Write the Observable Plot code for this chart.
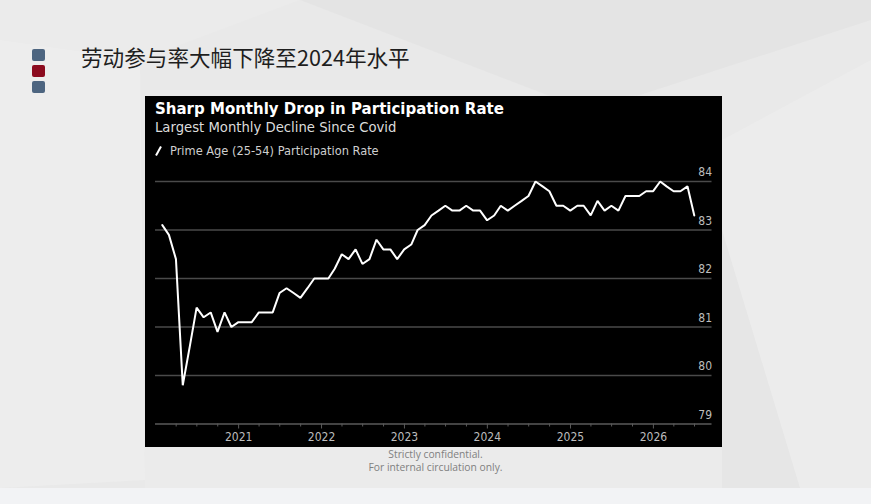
<!DOCTYPE html>
<html>
<head>
<meta charset="utf-8">
<script src="https://cdn.jsdelivr.net/npm/d3@7"></script>
<script src="https://cdn.jsdelivr.net/npm/@observablehq/plot@0.6"></script>
<style>
  html, body { margin: 0; padding: 0; }
  body { width: 871px; height: 504px; position: relative; overflow: hidden; background: #e9e9e9; font-family: "Noto Sans", sans-serif; }
  .facet { position: absolute; left: 0; top: 0; width: 871px; height: 504px; }
  .f1 { background: #e4e4e4; clip-path: polygon(300px 0, 871px 0, 871px 20px, 640px 95px, 560px 100px); }
  .f2 { background: #ededed; clip-path: polygon(0 40px, 140px 60px, 145px 480px, 0 488px); }
  .f3 { background: #ececec; clip-path: polygon(722px 140px, 871px 60px, 871px 488px, 722px 488px); }
  .f4 { background: #e6e6e6; clip-path: polygon(722px 230px, 800px 488px, 722px 488px); }
  .f5 { background: #ebebeb; clip-path: polygon(0 0, 300px 0, 140px 60px, 0 40px); }
  .f6 { background: #ebebeb; clip-path: polygon(145px 447px, 722px 447px, 722px 488px, 145px 488px); }
  .bottom { position: absolute; left: 0; top: 488px; width: 871px; height: 16px; background: #f2f3f5; }
  .sq { position: absolute; left: 32px; width: 13px; height: 12px; border-radius: 2px; }
  .title { position: absolute; left: 81px; top: 42px; font-family: "Noto Sans CJK SC", sans-serif; font-size: 21.6px; line-height: 30px; color: #1e1e1e; white-space: nowrap; }
  .panel { position: absolute; left: 145px; top: 96px; width: 577px; height: 351px; background: #000; }
  .ct { position: absolute; left: 10px; white-space: nowrap; font-family: "DejaVu Sans Condensed", "DejaVu Sans", sans-serif; }
  .ct1 { top: 3px; font-family: "DejaVu Sans", sans-serif; font-size: 15px; line-height: 20px; font-weight: bold; color: #fff; }
  .ct2 { top: 21px; font-size: 14.7px; line-height: 20px; color: #dcdcdc; }
  .ct3 { top: 46px; left: 10px; font-size: 12.7px; line-height: 18px; color: #cfcfcf; }
  .ct3 svg { vertical-align: -1px; margin-right: 8px; }
  #chart { position: absolute; left: 0; top: 64px; }
  .cap { position: absolute; left: 0; width: 871px; text-align: center; font-family: "Open Sans", sans-serif; font-size: 10.3px; line-height: 13px; color: #808080; }
</style>
</head>
<body>
<div class="facet f5"></div>
<div class="facet f1"></div>
<div class="facet f2"></div>
<div class="facet f3"></div>
<div class="facet f4"></div>
<div class="facet f6"></div>
<div class="bottom"></div>

<div class="sq" style="top:49px;background:#4d6580"></div>
<div class="sq" style="top:65px;background:#8c0b1f"></div>
<div class="sq" style="top:81px;background:#4d6580"></div>
<div class="title" id="pageTitle"></div>

<div class="panel">
  <div class="ct ct1" id="chartTitle"></div>
  <div class="ct ct2" id="chartSub"></div>
  <div class="ct ct3" id="legend"><svg width="7" height="10"><line x1="1" y1="9.5" x2="6" y2="0.5" stroke="#fff" stroke-width="2"/></svg><span id="legendText"></span></div>
  <div id="chart"></div>
</div>

<div class="cap" style="top:448px">Strictly confidential.</div>
<div class="cap" style="top:461px">For internal circulation only.</div>

<script>
// ---- Data ----
const pageTitle = "劳动参与率大幅下降至2024年水平";
const chartTitle = "Sharp Monthly Drop in Participation Rate";
const chartSubtitle = "Largest Monthly Decline Since Covid";
const seriesName = "Prime Age (25-54) Participation Rate";

const firstMonth = "2020-01";   // first observation (monthly, plotted at month end)
const rates = [
  // 2020
  83.1, 82.9, 82.4, 79.8, 80.6, 81.4, 81.2, 81.3, 80.9, 81.3, 81.0, 81.1,
  // 2021
  81.1, 81.1, 81.3, 81.3, 81.3, 81.7, 81.8, 81.7, 81.6, 81.8, 82.0, 82.0,
  // 2022
  82.0, 82.2, 82.5, 82.4, 82.6, 82.3, 82.4, 82.8, 82.6, 82.6, 82.4, 82.6,
  // 2023
  82.7, 83.0, 83.1, 83.3, 83.4, 83.5, 83.4, 83.4, 83.5, 83.4, 83.4, 83.2,
  // 2024
  83.3, 83.5, 83.4, 83.5, 83.6, 83.7, 84.0, 83.9, 83.8, 83.5, 83.5, 83.4,
  // 2025
  83.5, 83.5, 83.3, 83.6, 83.4, 83.5, 83.4, 83.7, 83.7, 83.7, 83.8, 83.8,
  // 2026
  84.0, 83.9, 83.8, 83.8, 83.9, 83.3
];
const yTicks = [79, 80, 81, 82, 83, 84];
const yearTicks = ["2021", "2022", "2023", "2024", "2025", "2026"];
const xDomain = ["2020-01-01", "2026-09-16"];

// ---- Build ----
document.getElementById("pageTitle").textContent = pageTitle;
document.getElementById("chartTitle").textContent = chartTitle;
document.getElementById("chartSub").textContent = chartSubtitle;
document.getElementById("legendText").textContent = seriesName;

const start = new Date(firstMonth + "-01T00:00:00Z");
const data = rates.map((v, i) => ({
  date: d3.utcDay.offset(d3.utcMonth.offset(start, i + 1), -1),
  value: v
}));
const dom = xDomain.map(s => new Date(s + "T00:00:00Z"));
const quarterDates = d3.utcMonth.every(3).range(dom[0], dom[1]).filter(d => d.getUTCMonth() !== 0);
const yearDates = yearTicks.map(y => new Date(y + "-01-01T00:00:00Z"));

const chart = Plot.plot({
  width: 577,
  height: 287,
  marginLeft: 10,
  marginRight: 10.5,
  marginTop: 21,
  marginBottom: 23.5,
  style: { background: "transparent", color: "#bdbdbd", fontFamily: "'DejaVu Sans Condensed', 'DejaVu Sans', sans-serif", fontSize: "12px", overflow: "visible" },
  x: { type: "utc", domain: dom },
  y: { domain: [79, 84] },
  marks: [
    Plot.ruleY(yTicks.filter(t => t > 79), { stroke: "#4a4a4a", strokeWidth: 1.3 }),
    Plot.ruleY([79], { stroke: "#5a5a5a", strokeWidth: 1.3 }),
    Plot.axisX(quarterDates, { tickSize: 3, text: null, stroke: "#5a5a5a", label: null }),
    Plot.axisX(yearDates, { tickSize: 5, tickPadding: 3, tickFormat: "%Y", stroke: "#5a5a5a", fill: "#bdbdbd", label: null }),
    Plot.axisY(yTicks, { anchor: "right", tickSize: 0, tickPadding: 0, textAnchor: "end", dy: -9, fill: "#bdbdbd", label: null }),
    Plot.line(data, { x: "date", y: "value", stroke: "#ffffff", strokeWidth: 2, strokeLinejoin: "miter" })
  ]
});
document.getElementById("chart").appendChild(chart);
</script>
</body>
</html>
